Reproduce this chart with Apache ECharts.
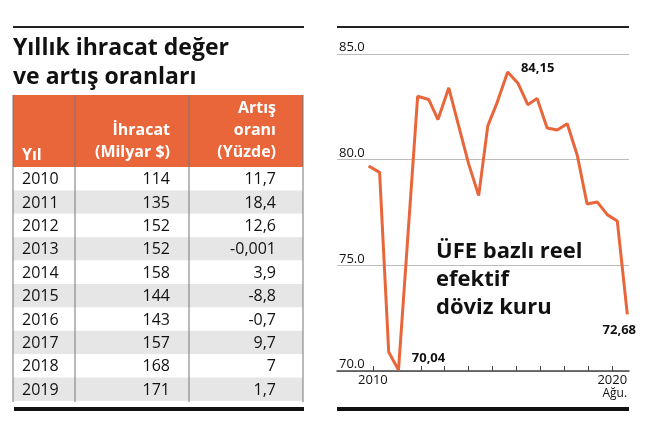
<!DOCTYPE html>
<html>
<head>
<meta charset="utf-8">
<script src="https://cdn.jsdelivr.net/npm/echarts@6/dist/echarts.min.js"></script>
<style>html,body{margin:0;padding:0;background:#fff}#main{width:650px;height:431px}</style>
</head>
<body>
<div id="main"></div>
<script>
// tablo verisi
var years = ['2010', '2011', '2012', '2013', '2014', '2015', '2016', '2017', '2018', '2019'];
var exports = ['114', '135', '152', '152', '158', '144', '143', '157', '168', '171'];
var growth = ['11,7', '18,4', '12,6', '-0,001', '3,9', '-8,8', '-0,7', '9,7', '7', '1,7'];

// reel efektif döviz kuru (yıl, değer)
var rerTime = [2009.82, 2010.28, 2010.66, 2011.07, 2011.87, 2012.33, 2012.72, 2013.17, 2013.63, 2014.0,
    2014.42, 2014.8, 2015.19, 2015.63, 2016.07, 2016.47, 2016.86, 2017.28, 2017.7, 2018.12,
    2018.54, 2018.95, 2019.37, 2019.79, 2020.21, 2020.63];
var rerValue = [79.7, 79.4, 70.9, 70.04, 83.0, 82.85, 81.9, 83.4, 81.4, 79.8,
    78.3, 81.6, 82.7, 84.15, 83.6, 82.6, 82.9, 81.5, 81.4, 81.7,
    80.2, 77.9, 78.0, 77.4, 77.1, 72.68];
var yTicks = [70, 75, 80, 85];
var xTicks = [2010, 2011, 2012, 2013, 2014, 2015, 2016, 2017, 2018, 2019, 2020];

var orange = '#e8663a';
var font = '"Open Sans", "Noto Sans", sans-serif';

$(function() {});
function $(f) { f(); }

var graphics = [];
// üst çizgiler
graphics.push({ type: 'rect', shape: { x: 13, y: 26, width: 291, height: 2 }, style: { fill: '#222' } });
graphics.push({ type: 'rect', shape: { x: 337, y: 26, width: 292, height: 2 }, style: { fill: '#222' } });
// alt kalın çizgiler
graphics.push({ type: 'rect', shape: { x: 14, y: 407, width: 290, height: 4 }, style: { fill: '#111' } });
graphics.push({ type: 'rect', shape: { x: 337, y: 407, width: 292, height: 4 }, style: { fill: '#111' } });
// başlık
graphics.push({ type: 'text', x: 13, y: 34, style: { text: 'Yıllık ihracat değer\nve artış oranları', font: 'bold 23px ' + font, fill: '#111', lineHeight: 29 } });
// başlık satırı
graphics.push({ type: 'rect', shape: { x: 13, y: 95, width: 290, height: 72 }, style: { fill: orange } });
graphics.push({ type: 'text', x: 22, y: 163, style: { text: 'Yıl', font: 'bold 16px ' + font, fill: '#fff', verticalAlign: 'bottom' } });
graphics.push({ type: 'text', x: 170, y: 163, style: { text: 'İhracat\n(Milyar $)', font: 'bold 16px ' + font, fill: '#fff', align: 'right', verticalAlign: 'bottom', lineHeight: 22 } });
graphics.push({ type: 'text', x: 276, y: 163, style: { text: 'Artış\noranı\n(Yüzde)', font: 'bold 16px ' + font, fill: '#fff', align: 'right', verticalAlign: 'bottom', lineHeight: 22 } });
// satırlar
var rowH = 23.4;
years.forEach(function(y, i) {
    var top = 167 + i * rowH;
    graphics.push({ type: 'rect', shape: { x: 13, y: top, width: 290, height: rowH }, style: { fill: i % 2 ? '#e6e6e6' : '#fff' } });
    var mid = top + rowH / 2 + 1;
    graphics.push({ type: 'text', x: 22, y: mid, style: { text: y, font: '16px ' + font, fill: '#111', verticalAlign: 'middle' } });
    graphics.push({ type: 'text', x: 170, y: mid, style: { text: exports[i], font: '16px ' + font, fill: '#111', align: 'right', verticalAlign: 'middle' } });
    graphics.push({ type: 'text', x: 276, y: mid, style: { text: growth[i], font: '16px ' + font, fill: '#111', align: 'right', verticalAlign: 'middle' } });
});
// sütun çizgileri
[13, 75, 189, 303].forEach(function(x) {
    graphics.push({ type: 'rect', shape: { x: x - 0.5, y: 95, width: 1, height: 307 }, style: { fill: '#777' } });
});
// grafik içi başlık
graphics.push({ type: 'text', x: 436, y: 238, style: { text: 'ÜFE bazlı reel\nefektif\ndöviz kuru', font: 'bold 22px ' + font, fill: '#111', lineHeight: 28 } });

var option = {
    animation: false,
    grid: { left: 337, right: 21, top: 54, bottom: 60 },
    xAxis: {
        type: 'value',
        min: 2008.5,
        max: 2020.7,
        axisLine: { show: true, lineStyle: { color: '#444', width: 1.5 } },
        axisTick: { show: true, customValues: xTicks, length: 5, inside: true, lineStyle: { color: '#444' } },
        axisLabel: {
            customValues: [2010, 2020],
            color: '#111',
            fontFamily: font,
            fontSize: 13,
            margin: 3,
            formatter: function(v) { return v === 2020 ? '2020\n{s|Ağu.}' : String(v); },
            rich: { s: { fontSize: 12, color: '#111', fontFamily: font, align: 'right', lineHeight: 14 } }
        },
        splitLine: { show: false }
    },
    yAxis: {
        type: 'value',
        min: 70,
        max: 85,
        interval: 5,
        axisLine: { show: false },
        axisTick: { show: false },
        axisLabel: {
            inside: true,
            verticalAlign: 'bottom',
            margin: 2,
            color: '#111',
            fontFamily: font,
            fontSize: 13,
            formatter: function(v) { return v.toFixed(1); }
        },
        splitLine: { lineStyle: { color: '#bbb' } }
    },
    series: [{
        type: 'line',
        data: rerTime.map(function(t, i) { return [t, rerValue[i]]; }),
        symbol: 'none',
        lineStyle: { color: orange, width: 3 },
        markPoint: {
            symbol: 'circle',
            symbolSize: 0,
            label: { show: true, color: '#111', fontWeight: 'bold', fontFamily: font, fontSize: 13 },
            data: [
                { coord: [2011.07, 70.04], value: '70,04', label: { offset: [30, -12] } },
                { coord: [2015.63, 84.15], value: '84,15', label: { offset: [30, -4] } },
                { coord: [2020.63, 72.68], value: '72,68', label: { offset: [-8, 16] } }
            ]
        }
    }],
    graphic: graphics
};

var myChart = echarts.init(document.getElementById('main'));
myChart.setOption(option);
</script>
</body>
</html>
